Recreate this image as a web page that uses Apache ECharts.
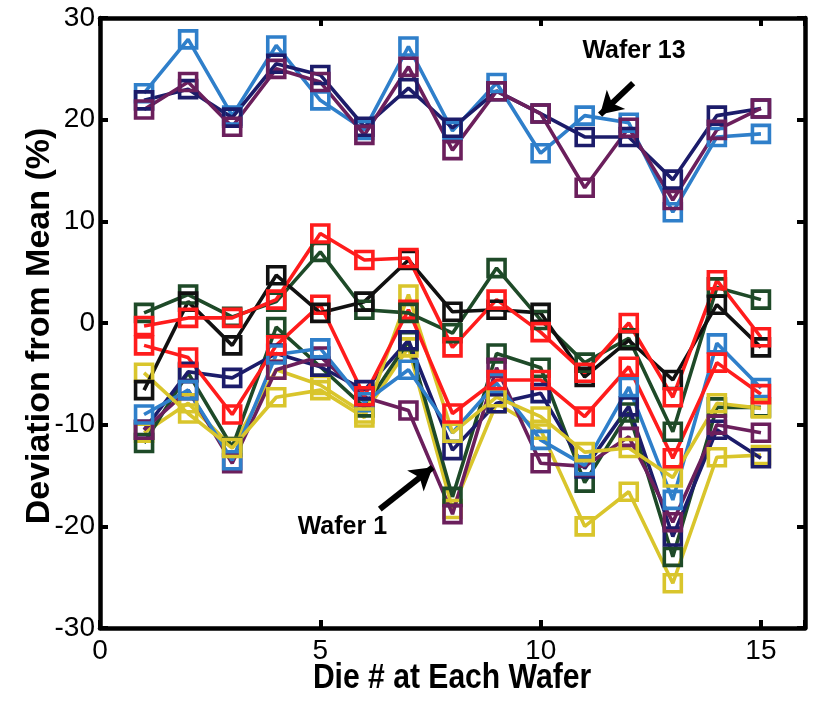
<!DOCTYPE html>
<html>
<head>
<meta charset="utf-8">
<script src="https://cdn.jsdelivr.net/npm/echarts@6/dist/echarts.min.js"></script>
<style>html,body{margin:0;padding:0;background:#fff;}#c{width:823px;height:702px;}</style>
</head>
<body>
<div id="c"></div>
<script>
var dies = [1,2,3,4,5,6,7,8,9,10,11,12,13,14,15];
var xTicks = [0,5,10,15];
var yTicks = [-30,-20,-10,0,10,20,30];
var xTitle = 'Die # at Each Wafer';
var yTitle = 'Deviation from Mean (%)';

// top group
var topBlue   = [22.6,27.9,20.4,27.3,21.9,19.0,27.2,18.9,23.6,16.7,20.4,19.7,10.9,18.3,18.6];
var topNavy   = [21.9,23.0,20.2,25.5,24.4,19.3,23.1,19.2,22.8,20.6,18.3,18.3,14.1,20.4,21.1];
var topPurple = [21.0,23.7,19.3,25.0,23.7,18.5,25.2,17.0,22.8,20.6,13.3,19.2,12.1,19.0,21.1];
// bottom group
var black   = [-6.6,2.1,-2.2,4.7,1.0,2.1,6.2,1.1,1.3,1.0,-5.3,-1.7,-5.6,1.8,-2.4];
var redA    = [-0.3,0.5,0.5,2.3,8.8,6.2,6.4,-2.4,2.3,-0.9,-4.9,0.0,-7.3,4.2,-1.4];
var redB    = [-2.2,-3.4,-9.0,-2.2,1.8,-7.2,1.3,-8.9,-5.6,-5.6,-9.2,-4.3,-13.3,-3.9,-7.0];
var greenA  = [1.0,2.8,0.6,2.1,7.0,1.3,1.0,-1.0,5.4,0.3,-3.9,-1.5,-10.7,3.5,2.3];
var greenB  = [-11.8,-4.9,-12.2,-0.4,-4.3,-8.3,-1.8,-17.1,-3.0,-4.4,-15.7,-8.8,-23.0,-8.3,-8.3];
var yellowA = [-4.9,-8.9,-12.3,-7.3,-6.6,-9.3,2.8,-10.8,-7.3,-9.2,-12.7,-12.3,-15.2,-7.9,-8.4];
var yellowB = [-10.8,-7.9,-12.2,-4.6,-6.1,-8.9,-2.4,-18.3,-7.9,-10.5,-20.0,-16.6,-25.6,-13.2,-13.0];
var blue    = [-9.0,-6.6,-13.5,-3.1,-2.5,-7.8,-4.6,-10.8,-5.9,-11.5,-14.0,-6.3,-17.4,-2.0,-6.4];
var navy    = [-10.5,-4.8,-5.4,-3.0,-4.3,-6.6,-1.7,-12.5,-7.9,-6.9,-14.3,-8.2,-21.0,-10.5,-13.3];
var purple  = [-10.5,-6.6,-13.8,-4.6,-3.3,-7.3,-8.6,-18.8,-4.4,-13.8,-14.1,-11.2,-19.6,-10.0,-10.8];

var C = {blue:'#2f7fca', navy:'#1c1c6a', purple:'#6b1f5c', black:'#111111', red:'#ff1c1c', green:'#1e4a28', yellow:'#d9c52c'};

var seriesDefs = [
  ['yellowB', yellowB, C.yellow],
  ['greenB', greenB, C.green],
  ['navy', navy, C.navy],
  ['purple', purple, C.purple],
  ['blue', blue, C.blue],
  ['yellowA', yellowA, C.yellow],
  ['redB', redB, C.red],
  ['greenA', greenA, C.green],
  ['black', black, C.black],
  ['redA', redA, C.red],
  ['topBlue', topBlue, C.blue],
  ['topNavy', topNavy, C.navy],
  ['topPurple', topPurple, C.purple]
];

var FONT = '"Liberation Sans", Arial, sans-serif';
var chart = echarts.init(document.getElementById('c'), null, {renderer:'canvas'});

var series = seriesDefs.map(function(d){
  return {
    name: d[0], type:'line',
    data: dies.map(function(x,i){ return [x, d[1][i]]; }),
    symbol:'rect', symbolSize:17,
    showSymbol:true,
    itemStyle:{color:'rgba(0,0,0,0)', borderColor:d[2], borderWidth:3.6},
    lineStyle:{color:d[2], width:3.6},
    z: 3, animation:false
  };
});

// annotation arrows and labels
series.push({
  type:'line', data:[], animation:false,
  markLine:{
    silent:true, animation:false,
    symbolSize:[20,22],
    lineStyle:{color:'#000', width:6, type:'solid'},
    label:{show:false},
    data:[
      [{coord:[12.1,23.6], symbol:'none'},{coord:[11.35,20.5], symbol:'arrow'}],
      [{coord:[6.35,-18.3], symbol:'none'},{coord:[7.55,-14.2], symbol:'arrow'}]
    ]
  },
  markPoint:{
    silent:true, animation:false, symbol:'rect', symbolSize:1,
    itemStyle:{color:'rgba(0,0,0,0)'},
    label:{show:true, color:'#000', fontWeight:'bold', fontSize:25, fontFamily:FONT, position:'inside'},
    data:[
      {coord:[12.12,26.7], value:'Wafer 13', label:{formatter:'Wafer 13'}},
      {coord:[5.5,-20.1], value:'Wafer 1', label:{formatter:'Wafer 1'}}
    ]
  }
});

var axisLabelFont = {color:'#000', fontSize:28, fontFamily:FONT};

chart.setOption({
  backgroundColor:'#fff',
  animation:false,
  grid:{left:100, right:18, top:18, bottom:74, containLabel:false, outerBoundsMode:'none'},
  xAxis:[{
    type:'value', min:0, max:16, interval:5,
    axisLine:{show:true, onZero:false, lineStyle:{color:'#000', width:4.5}},
    axisTick:{show:true, inside:true, length:8, lineStyle:{color:'#000', width:4}},
    axisLabel:Object.assign({margin:9, formatter:function(v){return xTicks.indexOf(v)>=0? String(v):'';}}, axisLabelFont),
    splitLine:{show:false}
  },{
    type:'value', min:0, max:16, interval:5, position:'top',
    axisLine:{show:true, onZero:false, lineStyle:{color:'#000', width:4.5}},
    axisTick:{show:true, inside:true, length:8, lineStyle:{color:'#000', width:4}},
    axisLabel:{show:false}, splitLine:{show:false}
  }],
  yAxis:[{
    type:'value', min:-30, max:30, interval:10,
    axisLine:{show:true, onZero:false, lineStyle:{color:'#000', width:4.5}},
    axisTick:{show:true, inside:true, length:8, lineStyle:{color:'#000', width:4}},
    axisLabel:Object.assign({margin:5, formatter:function(v){return yTicks.indexOf(v)>=0? String(v):'';}}, axisLabelFont),
    splitLine:{show:false}
  },{
    type:'value', min:-30, max:30, interval:10, position:'right',
    axisLine:{show:true, onZero:false, lineStyle:{color:'#000', width:4.5}},
    axisTick:{show:true, inside:true, length:8, lineStyle:{color:'#000', width:4}},
    axisLabel:{show:false}, splitLine:{show:false}
  }],
  graphic:[
    {type:'text', style:{text:xTitle, fill:'#000', font:'bold 35px '+FONT, textAlign:'center', textVerticalAlign:'middle'},
     x:452, y:678, scaleX:0.86, scaleY:1, z:10},
    {type:'text', style:{text:yTitle, fill:'#000', font:'bold 34px '+FONT, textAlign:'center', textVerticalAlign:'middle'},
     x:40, y:326, rotation:Math.PI/2, z:10}
  ],
  series: series
});
</script>
</body>
</html>
